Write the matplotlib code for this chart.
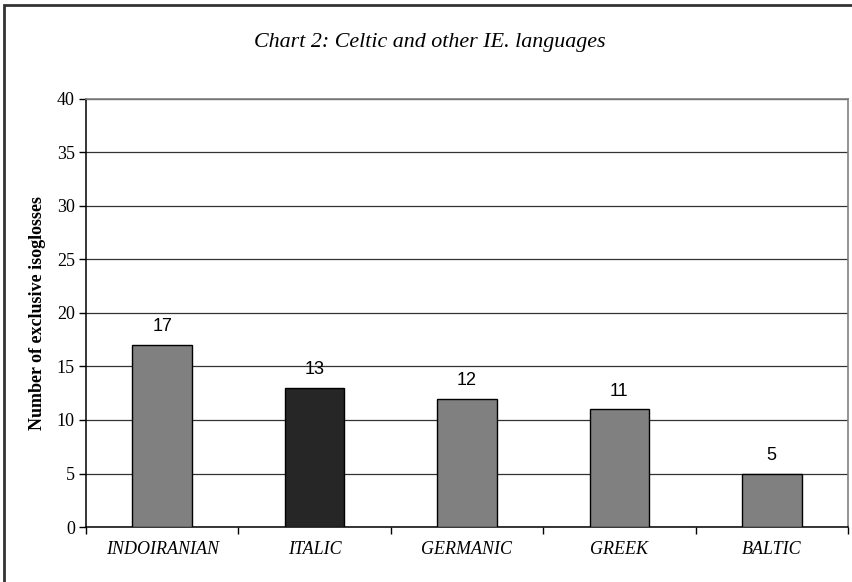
import matplotlib.pyplot as plt
from matplotlib.patches import Rectangle

# chart data
languages = ['INDOIRANIAN', 'ITALIC', 'GERMANIC', 'GREEK', 'BALTIC']
isoglosses = [17, 13, 12, 11, 5]
bar_colors = ['#808080', '#262626', '#808080', '#808080', '#808080']

plt.rcParams['font.family'] = ['Liberation Serif', 'DejaVu Serif']

fig = plt.figure(figsize=(8.52, 5.82), dpi=100)
ax = fig.add_axes([86 / 852, 55 / 582, 762 / 852, 428 / 582])

x = list(range(len(languages)))
bars = ax.bar(x, isoglosses, width=0.39, color=bar_colors,
              edgecolor='black', linewidth=1.0, zorder=3)

# value labels above bars
for bar, val in zip(bars, isoglosses):
    ax.annotate(str(val), (bar.get_x() + bar.get_width() / 2, val),
                xytext=(0, 7), textcoords='offset points',
                ha='center', va='bottom', fontsize=13,
                family='Liberation Sans')

ax.set_xlim(-0.5, len(languages) - 0.5)
ax.set_ylim(0, 40)
ax.set_yticks(range(0, 41, 5))
ax.set_xticks([i - 0.5 for i in range(len(languages) + 1)])
ax.set_xticklabels([])
ax.set_xticks(x, minor=True)
ax.set_xticklabels(languages, minor=True, fontsize=13, style='italic')
ax.tick_params(axis='x', which='minor', length=0, pad=10)
ax.tick_params(axis='x', which='major', length=5, width=1, direction='out')
ax.tick_params(axis='y', length=5, width=1, direction='out', labelsize=13, pad=3)

ax.yaxis.grid(True, color='#333333', linewidth=0.9, zorder=0)
ax.set_axisbelow(True)

for side in ['left', 'bottom']:
    ax.spines[side].set_color('black')
    ax.spines[side].set_linewidth(1.1)
for side in ['top', 'right']:
    ax.spines[side].set_color('#808080')
    ax.spines[side].set_linewidth(1.2)

ax.set_ylabel('Number of exclusive isoglosses', fontsize=13, fontweight='bold',
              labelpad=8)

fig.text(430 / 852, 1 - 42 / 582, 'Chart 2: Celtic and other IE. languages',
         ha='center', va='center', fontsize=15.8, style='italic')

# outer chart border (runs off the right and bottom edges)
fig.patches.append(Rectangle((4 / 852, -0.05), 1.0, 1 - 5 / 582 + 0.05,
                             transform=fig.transFigure, fill=False,
                             edgecolor='#333333', linewidth=2, clip_on=False))

fig.savefig('out.png', dpi=100)
